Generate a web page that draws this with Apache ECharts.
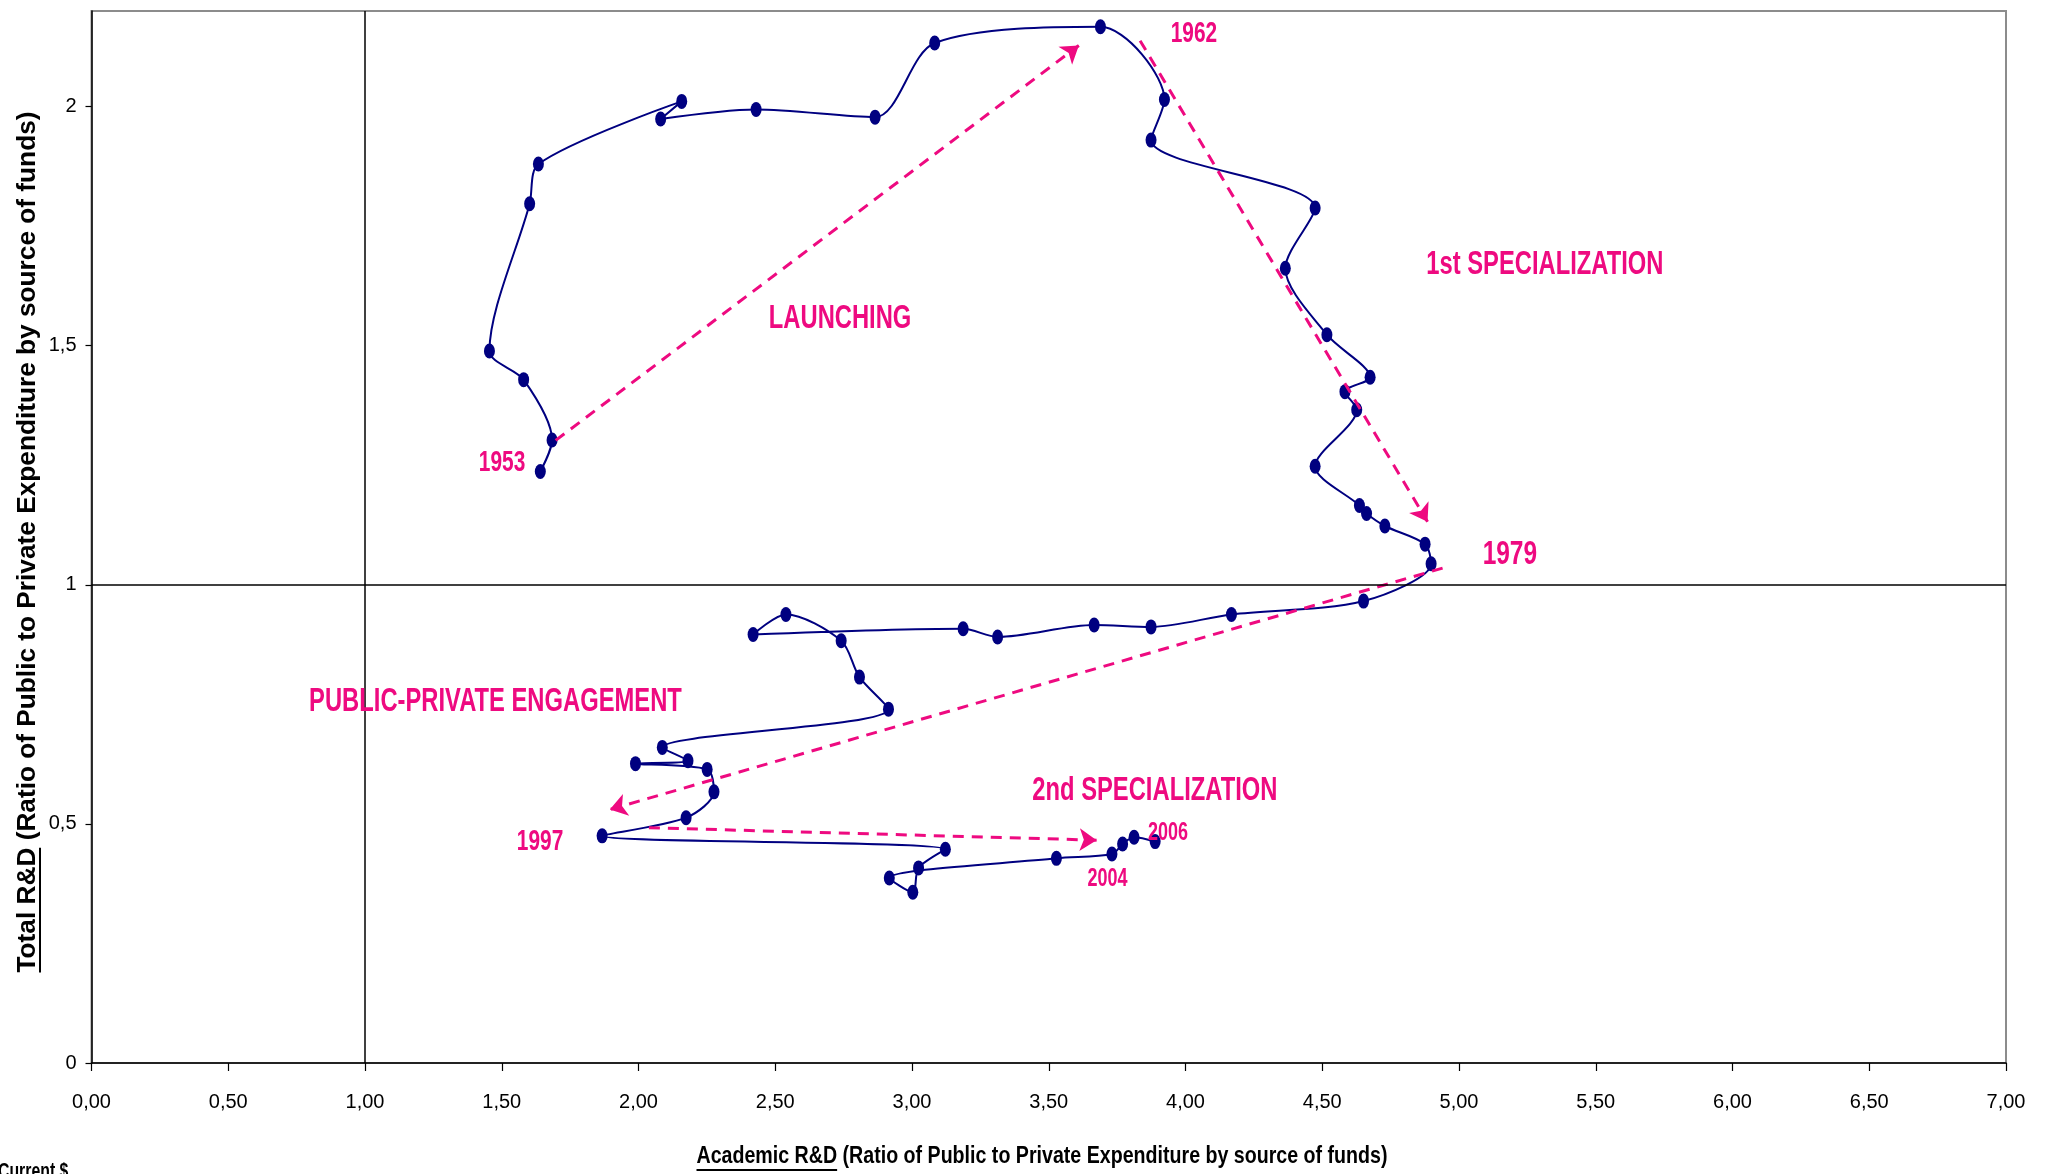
<!DOCTYPE html>
<html>
<head>
<meta charset="utf-8">
<script src="https://cdn.jsdelivr.net/npm/echarts@6/dist/echarts.min.js"></script>
<style>
html,body{margin:0;padding:0;background:#fff;}
#chart{width:2049px;height:1174px;}
</style>
</head>
<body>
<div id="chart"></div>
<script>
// Path of the economy (one point per observation, in chronological order)
const academicRD = [1.641,1.684,1.580,1.455,1.602,1.634,2.158,2.081,2.430,2.865,3.083,3.689,
  3.923,3.874,4.474,4.365,4.517,4.675,4.583,4.626,4.474,4.636,4.662,4.729,4.876,4.898,
  4.651,4.168,3.874,3.666,3.313,3.187,2.419,2.539,2.741,2.808,2.914,2.087,2.181,1.989,2.251,2.276,2.174,1.867,
  3.122,3.024,3.003,2.917,3.528,3.731,3.770,3.812,3.889];
const totalRD = [1.237,1.303,1.429,1.489,1.797,1.880,2.011,1.974,1.994,1.978,2.133,2.167,
  2.015,1.930,1.788,1.662,1.523,1.434,1.404,1.366,1.248,1.166,1.149,1.123,1.085,1.044,
  0.966,0.938,0.912,0.916,0.891,0.908,0.896,0.938,0.883,0.807,0.740,0.660,0.632,0.626,0.614,0.567,0.513,0.475,
  0.447,0.408,0.357,0.387,0.428,0.437,0.458,0.472,0.463];

// Phase arrows (data coordinates)
const arrowFromX = [1.697, 3.834, 4.940, 2.038];
const arrowFromY = [1.302, 2.138, 1.035, 0.492];
const arrowToX   = [3.610, 4.885, 1.895, 3.675];
const arrowToY   = [2.128, 1.132, 0.530, 0.466];

// Annotations
const phaseNames = ['LAUNCHING','1st SPECIALIZATION','PUBLIC-PRIVATE ENGAGEMENT','2nd SPECIALIZATION'];
const phaseX = [2.737, 5.314, 1.477, 3.888];
const phaseY = [1.556, 1.669, 0.755, 0.569];
const yearNames = ['1953','1962','1979','1997','2004','2006'];
const yearX = [1.501, 4.031, 5.186, 1.640, 3.715, 3.936];
const yearY = [1.254, 2.152, 1.064, 0.462, 0.385, 0.481];

// Axis ticks
const xTicks = [0,0.5,1,1.5,2,2.5,3,3.5,4,4.5,5,5.5,6,6.5,7];
const yTicks = [0,0.5,1,1.5,2];

const xTitleLead = 'Academic R&D';
const xTitleRest = ' (Ratio of Public to Private Expenditure by source of funds)';
const yTitleLead = 'Total R&D';
const yTitleRest = ' (Ratio of Public to Private Expenditure by source of funds)';
const footNote = 'Current $';

// ---- styling ----
const SANS = '"Liberation Sans", Arial, sans-serif';
const PINK = '#ee0a80';
const NAVY = '#000080';
const SQUASH = 0.72;               // horizontal squeeze of the reference lettering
const phaseFont = 33;
const yearFont = {'1979': 34, '2004': 25, '2006': 25};
const yearFontDefault = 29;

function measure(font, text) {
  const c = document.createElement('canvas').getContext('2d');
  c.font = font; return c.measureText(text).width;
}

const chart = echarts.init(document.getElementById('chart'), null, {renderer: 'canvas'});

const option = {
  animation: false,
  backgroundColor: '#fff',
  grid: {left: 91.5, right: 43, top: 11, bottom: 111, show: true, borderColor: '#8c8c8c', borderWidth: 2, backgroundColor: 'transparent'},
  xAxis: {
    type: 'value', min: 0, max: 7, interval: 0.5,
    axisLine: {show: true, lineStyle: {color: '#000', width: 1.5}},
    axisTick: {show: true, length: 8, lineStyle: {color: '#000', width: 1.2}, customValues: xTicks},
    axisLabel: {customValues: xTicks, margin: 29, fontSize: 20, fontFamily: SANS, color: '#000',
      formatter: v => v.toFixed(2).replace('.', ',')},
    splitLine: {show: false}
  },
  yAxis: {
    type: 'value', min: 0, max: 2.2, interval: 0.5,
    axisLine: {show: true, lineStyle: {color: '#000', width: 1.5}},
    axisTick: {show: true, length: 6, lineStyle: {color: '#000', width: 1.2}, customValues: yTicks},
    axisLabel: {customValues: yTicks, margin: 15, fontSize: 20, fontFamily: SANS, color: '#000',
      formatter: v => String(v).replace('.', ',')},
    splitLine: {show: false}
  },
  series: [
    {
      type: 'line',
      data: academicRD.map((x, i) => [x, totalRD[i]]),
      smooth: 0.3,
      symbol: 'circle',
      symbolSize: [11, 15],
      lineStyle: {color: NAVY, width: 2},
      itemStyle: {color: NAVY},
      z: 3,
      markLine: {
        silent: true, symbol: 'none', animation: false,
        label: {show: false},
        lineStyle: {color: '#000', width: 1.5, type: 'solid'},
        data: [{xAxis: 1}, {yAxis: 1}]
      }
    },
    {
      type: 'lines',
      coordinateSystem: 'cartesian2d',
      silent: true,
      symbol: ['none', 'arrow'],
      symbolSize: 17,
      lineStyle: {color: PINK, width: 3, type: [11, 8], opacity: 1},
      data: arrowFromX.map((x, i) => ({coords: [[x, arrowFromY[i]], [arrowToX[i], arrowToY[i]]]})),
      z: 4
    }
  ]
};
chart.setOption(option);

// ---- text layer: annotations placed through the chart's own scales ----
function annotation(text, x, y, size) {
  const p = chart.convertToPixel({xAxisIndex: 0, yAxisIndex: 0}, [x, y]);
  return {
    type: 'text', x: p[0], y: p[1], scaleX: SQUASH, scaleY: 1, z: 100,
    style: {text: text, font: 'bold ' + size + 'px ' + SANS, fill: PINK,
      align: 'center', verticalAlign: 'middle', textAlign: 'center', textVerticalAlign: 'middle'}
  };
}

const graphics = [];
phaseNames.forEach((t, i) => graphics.push(annotation(t, phaseX[i], phaseY[i], phaseFont)));
yearNames.forEach((t, i) => graphics.push(annotation(t, yearX[i], yearY[i], yearFont[t] || yearFontDefault)));

// axis titles (underlined lead phrase)
const xFont = 'bold 24px ' + SANS;
const xFull = measure(xFont, xTitleLead + xTitleRest);
const xLead = measure(xFont, xTitleLead);
const yFont = 'bold 26px ' + SANS;
const yFull = measure(yFont, yTitleLead + yTitleRest);
const yLead = measure(yFont, yTitleLead);

graphics.push({
  type: 'group', x: 1042, y: 1156, scaleX: 691 / xFull, scaleY: 1, z: 100,
  children: [
    {type: 'text', style: {text: xTitleLead + xTitleRest, font: xFont, fill: '#000',
      x: 0, y: 0, align: 'center', verticalAlign: 'middle', textAlign: 'center', textVerticalAlign: 'middle'}},
    {type: 'line', shape: {x1: -xFull / 2, y1: 14, x2: -xFull / 2 + xLead, y2: 14},
      style: {stroke: '#000', lineWidth: 2}}
  ]
});
graphics.push({
  type: 'group', x: 28, y: 542, rotation: Math.PI / 2, z: 100,
  children: [{
    type: 'group', scaleX: 861 / yFull, scaleY: 1,
    children: [
      {type: 'text', style: {text: yTitleLead + yTitleRest, font: yFont, fill: '#000',
        x: 0, y: 0, align: 'center', verticalAlign: 'middle', textAlign: 'center', textVerticalAlign: 'middle'}},
      {type: 'line', shape: {x1: -yFull / 2, y1: 12, x2: -yFull / 2 + yLead, y2: 12},
        style: {stroke: '#000', lineWidth: 2}}
    ]
  }]
});
graphics.push({
  type: 'text', x: -2, y: 1161, scaleX: SQUASH, scaleY: 1, z: 100,
  style: {text: footNote, font: 'bold 22px ' + SANS, fill: '#000', align: 'left', verticalAlign: 'top',
    textAlign: 'left', textVerticalAlign: 'top'}
});

chart.setOption({graphic: graphics});
</script>
</body>
</html>
